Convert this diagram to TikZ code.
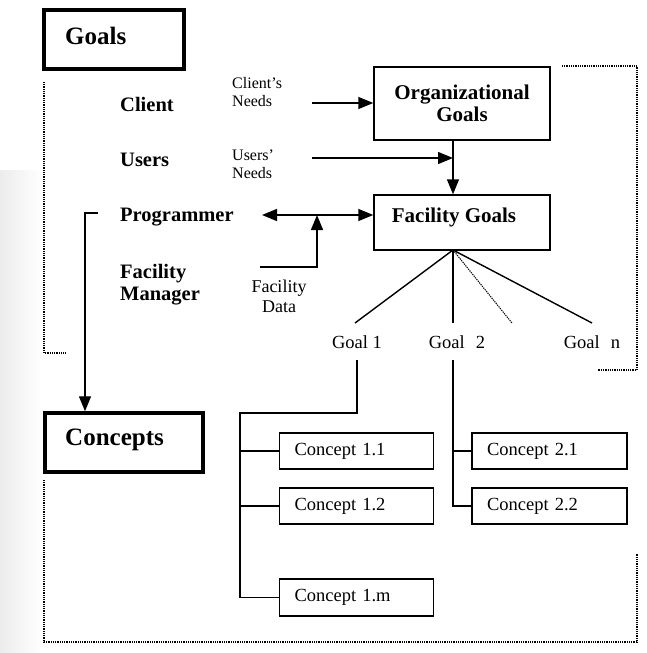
\documentclass[tikz,border=0pt]{standalone}
\usepackage{fontspec}
\setmainfont{Liberation Serif}
\usetikzlibrary{arrows.meta}
\begin{document}
\begin{tikzpicture}[x=1pt,y=-1pt,
  thinline/.style={line width=1.4pt},
  tip/.style={-{Triangle[length=15pt,width=12pt]}},
  dots/.style={line width=1.3pt,dash pattern=on 1pt off 0.8pt},
  heavybox/.style={draw,line width=3.5pt,minimum width=140pt,minimum height=59pt,inner sep=0pt},
  goalbox/.style={draw,line width=1.4pt,minimum width=176pt,inner sep=0pt},
  conceptbox/.style={draw,line width=1.4pt,inner xsep=15pt,inner ysep=0pt,
    text width=124pt,align=left,minimum height=36pt,
    font=\fontsize{18.5}{20}\selectfont},
  actor/.style={anchor=base west,inner sep=0pt,font=\fontsize{20.5}{22}\selectfont\bfseries},
  small/.style={anchor=base west,inner sep=0pt,align=left,font=\fontsize{16}{18}\selectfont},
  goallabel/.style={inner sep=0pt,font=\fontsize{18.5}{20}\selectfont}]
\useasboundingbox (0,0) rectangle (647,653);
% soft grey strip along the left edge
\shade[left color=gray!15,right color=white] (0,170) rectangle (42,653);

% section headings
\node[heavybox] (goals) at (114,39.5) {};
\node[anchor=west,inner sep=0pt,font=\fontsize{25}{27}\selectfont\bfseries] (goalsT) at (65,36) {Goals};
\node[heavybox,minimum width=158pt] (concepts) at (124,442.5) {};
\node[anchor=west,inner sep=0pt,font=\fontsize{25}{27}\selectfont\bfseries] (conceptsT) at (65,440) {Concepts};

% actors (multi-line nodes sit on the baseline of their last line)
\node[actor] (client) at (120,111) {Client};
\node[actor] (users) at (120,166) {Users};
\node[actor] (prog) at (120,221) {Programmer};
\node[actor,align=left] (fm) at (120,300) {Facility\\Manager};

% needs and data labels
\node[small] (cneeds) at (232,106) {Client's\\Needs};
\node[small] (uneeds) at (232,178) {Users'\\Needs};
\node[anchor=base,inner sep=0pt,align=center,font=\fontsize{18}{20}\selectfont] (fdata) at (279,312) {Facility\\Data};

% goal boxes
\node[goalbox,minimum height=73pt,align=center,font=\fontsize{21}{22}\selectfont\bfseries] (org) at (462,103.5) {Organizational\\Goals};
\node[goalbox,minimum height=55pt] (fac) at (462,222.5) {};
\node[inner sep=0pt,font=\fontsize{21}{22}\selectfont\bfseries] (facT) at (454,217) {Facility Goals};

% individual goals
\node[goallabel] (g1) at (357,342) {Goal 1};
\node[goallabel] (g2) at (457,342) {Goal\hspace{0.6em}2};
\node[goallabel] (gn) at (592,342) {Goal\hspace{0.6em}n};

% concepts
\node[conceptbox] (c11) at (356.5,451) {Concept 1.1};
\node[conceptbox] (c12) at (356.5,506) {Concept 1.2};
\node[conceptbox,minimum height=37pt] (c1m) at (356.5,597.5) {Concept 1.m};
\node[conceptbox,text width=125pt] (c21) at (549.5,451) {Concept 2.1};
\node[conceptbox,text width=125pt] (c22) at (549.5,506) {Concept 2.2};

% connector end points
\coordinate (cnIn) at (312,103);
\coordinate (unIn) at (312,158);
\coordinate (hub) at (453,250);
\coordinate (progTip) at (262,215);
\coordinate (dataStart) at (260,267);
\coordinate (dataTurn) at (317,267);
\coordinate (progLeft) at (98,213);
\coordinate (progCorner) at (85,213);
\coordinate (f1) at (355,323);
\coordinate (f2) at (453,323);
\coordinate (f3) at (512,323);
\coordinate (fn) at (592,323);
\coordinate (g1top) at (357,360);
\coordinate (g1turn) at (357,413);
\coordinate (trunk1) at (240,413);
\coordinate (g2top) at (453,360);

% inputs to the goal boxes
\draw[thinline,tip] (cnIn) -- (cnIn -| org.west);
\draw[thinline,tip] (unIn) -- (unIn -| hub);
\draw[thinline,tip] (org.south -| hub) -- (fac.north -| hub);
\draw[thinline,{Triangle[length=15pt,width=12pt]}-{Triangle[length=15pt,width=12pt]}] (progTip) -- (progTip -| fac.west);
\draw[thinline,tip] (dataStart) -- (dataTurn) -- (dataTurn |- progTip);
\draw[thinline,tip] (progLeft) -- (progCorner) -- (progCorner |- concepts.north);

% fan of goals
\draw[thinline] (hub) -- (f1);
\draw[thinline] (hub) -- (f2);
\draw[line width=1.1pt,dash pattern=on 1.2pt off 1pt] (hub) -- (f3);
\draw[thinline] (hub) -- (fn);

% concept trees
\draw[thinline] (g1top) -- (g1turn) -- (trunk1) |- (c1m.west);
\draw[thinline] (trunk1 |- c11.west) -- (c11.west);
\draw[thinline] (trunk1 |- c12.west) -- (c12.west);
\draw[thinline] (g2top) |- (c22.west);
\draw[thinline] (g2top |- c21.west) -- (c21.west);

% dotted frames
\draw[dots] (44,82) -- (44,353) -- (65,353);
\draw[dots] (562,66) -- (637,66) -- (637,370) -- (598,370);
\draw[dots] (44,480) -- (44,642) -- (637,642) -- (637,553);
\end{tikzpicture}
\end{document}
